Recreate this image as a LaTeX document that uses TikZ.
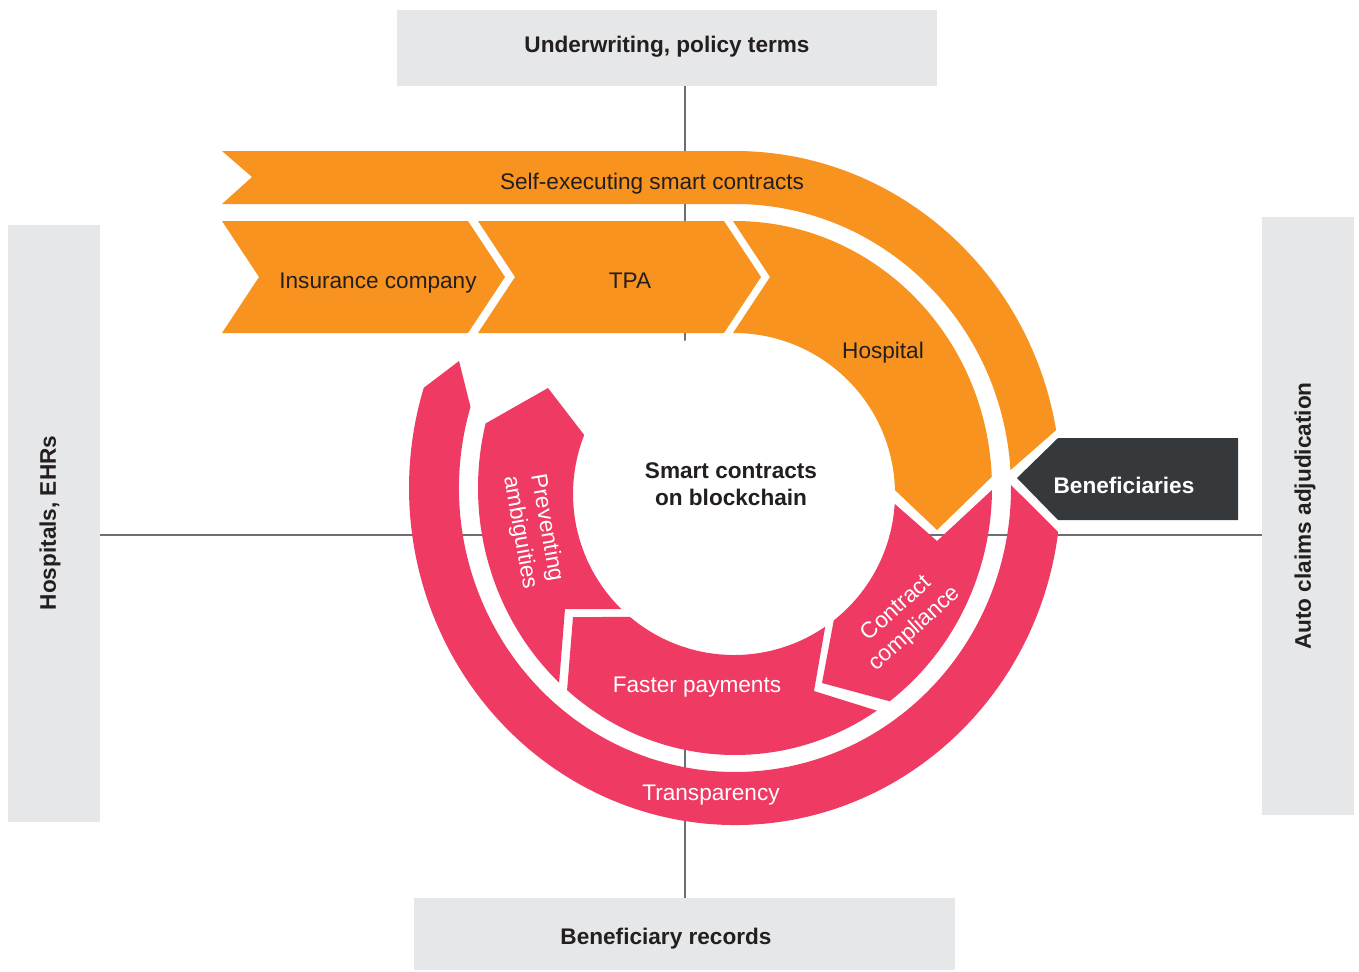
\documentclass[tikz,border=0pt]{standalone}
\usepackage{fontspec}
\setmainfont{Liberation Sans}
\usetikzlibrary{calc}
\definecolor{orng}{HTML}{F7931E}
\definecolor{pnk}{HTML}{EF3B63}
\definecolor{drk}{HTML}{36393C}
\definecolor{boxg}{HTML}{E6E7E8}
\definecolor{linegray}{HTML}{6D6E70}
\definecolor{txt}{HTML}{231F20}
\begin{document}
\begin{tikzpicture}[x=0.5pt,y=-0.5pt,
  lbl/.style={font=\fontsize{11.3}{13.5}\selectfont, text=txt, inner sep=0pt, align=center},
  blbl/.style={lbl, font=\fontsize{11.3}{13.5}\selectfont\bfseries},
  wlbl/.style={lbl, text=white},
  gbox/.style={fill=boxg, inner sep=0pt, outer sep=0pt},
  axisline/.style={draw=linegray, line width=1pt},
  oband/.style={fill=orng},
  pband/.style={fill=pnk}]
\useasboundingbox (0,0) rectangle (1359,971);

% grey boxes
\node[gbox, minimum width=270pt, minimum height=38pt] (topbox) at (667,48) {};
\node[gbox, minimum width=270.5pt, minimum height=36pt] (botbox) at (684.5,934) {};
\node[gbox, minimum width=46pt, minimum height=298.5pt] (leftbox) at (54,523.5) {};
\node[gbox, minimum width=46pt, minimum height=299pt] (rightbox) at (1308,516) {};

\node[blbl, anchor=base] (toptext) at (667,52) {Underwriting, policy terms};
\node[blbl, anchor=base] (bottext) at (666,944) {Beneficiary records};
\node[blbl, rotate=90] (lefttext) at (50,523) {Hospitals, EHRs};
\node[blbl, rotate=90] (righttext) at (1305,516) {Auto claims adjudication};

% axis lines
\coordinate (hl) at (0,535);
\draw[axisline] (botbox.north) -- (botbox.north |- topbox.south);
\draw[axisline] (leftbox.east |- hl) -- (rightbox.west |- hl);

\coordinate (C) at (735,488);
\coordinate (D) at (734,494);

% white centre disk
\fill[white] (D) circle[radius=161];

% orange outer band
\path[oband] (222,151) -- (252,177) -- (222,204) -- (735,204)
  arc[start angle=-90, end angle=-3.6, x radius=276, y radius=284]
  -- ($(C)+(-9.9:326 and 337)$)
  arc[start angle=-9.9, end angle=-90, x radius=326, y radius=337] -- cycle;

% orange inner chevrons
\path[oband] (222,221) -- (259,277) -- (222,333) -- (468,333) -- (505,277) -- (468,221) -- cycle;
\path[oband] (478,221) -- (515,277) -- (478,333) -- (724,333) -- (761,277) -- (724,221) -- cycle;
\path[oband] (733,333) -- (770,277) -- (733,221) -- (735,221)
  arc[start angle=-90, end angle=-2.4, x radius=257, y radius=267]
  -- (937,530) -- ($(D)+(-1.4:161)$)
  arc[start angle=-1.4, end angle=-90, radius=161] -- cycle;

% pink outer band
\path[pband] ($(C)+(-0.6:276 and 284)$) -- ($(C)+(7.5:326 and 337)$)
  arc[start angle=7.5, end angle=197.3, x radius=326, y radius=337]
  -- (459,361) -- ($(C)+(196.6:276 and 284)$)
  arc[start angle=196.6, end angle=-0.6, x radius=276, y radius=284] -- cycle;

% pink inner segments
\path[pband] ($(D)+(3.5:161)$) -- (937,541) -- ($(C)+(0.4:257 and 267)$)
  arc[start angle=0.4, end angle=53, x radius=257, y radius=267]
  -- (822,683) -- ($(D)+(51.7:161)$)
  arc[start angle=51.7, end angle=3.5, radius=161] -- cycle;
\path[pband] ($(D)+(130.2:161)$) arc[start angle=130.2, end angle=55.5, radius=161]
  -- (814,691) -- ($(C)+(56.5:257 and 267)$)
  arc[start angle=56.5, end angle=130.8, x radius=257, y radius=267]
  -- (573,617) -- cycle;
\path[pband] ($(C)+(-166:257 and 267)$) -- (548,388) -- ($(D)+(-158.5:161)$)
  arc[start angle=-158.5, end angle=-225.6, radius=161]
  -- (565,609) -- ($(C)+(-226.8:257 and 267)$)
  arc[start angle=-226.8, end angle=-166, x radius=257, y radius=267] -- cycle;

% beneficiaries
\path[fill=drk] (1017,478) -- (1058,438) -- (1238,438) -- (1238,520) -- (1058,520) -- cycle;
\node[blbl, text=white, anchor=base] (ben) at (1124,493) {Beneficiaries};

% labels
\node[lbl, anchor=base] (selfexec) at (652,189) {Self-executing smart contracts};
\node[lbl, anchor=base] (ins) at (378,288) {Insurance company};
\node[lbl, anchor=base] (tpa) at (630,288) {TPA};
\node[lbl, anchor=base] (hosp) at (883,358) {Hospital};
\node[blbl] (center) at (731,484) {Smart contracts\\on blockchain};
\node[wlbl, rotate=-80] (prev) at (533,530) {Preventing\\ambiguities};
\node[wlbl, rotate=42] (comp) at (906,619) {Contract\\compliance};
\node[wlbl, anchor=base] (fast) at (697,692) {Faster payments};
\node[wlbl, anchor=base] (transp) at (711,800) {Transparency};
\end{tikzpicture}
\end{document}
